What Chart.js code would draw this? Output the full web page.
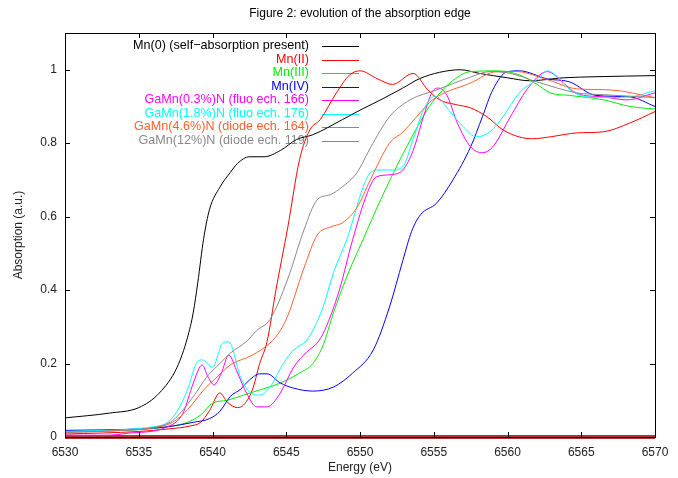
<!DOCTYPE html>
<html>
<head>
<meta charset="utf-8">
<script src="https://cdn.jsdelivr.net/npm/chart.js@4.4.1/dist/chart.umd.min.js"></script>
<style>
  html, body { margin: 0; padding: 0; background: #fff; }
  #wrap { width: 678px; height: 478px; }
</style>
</head>
<body>
<div id="wrap"><canvas id="chartCanvas"></canvas></div>
<script>
// axis ticks
const xTicks = [6530, 6535, 6540, 6545, 6550, 6555, 6560, 6565, 6570];
const yTicks = [0, 0.2, 0.4, 0.6, 0.8, 1];

// Mn(0)
const mn0E = [6530, 6533, 6535, 6536.4, 6537.6, 6538.3, 6538.7, 6539.0, 6539.4, 6539.8, 6540.5, 6541.2, 6541.7, 6542.5, 6543.5, 6544.6, 6545.7, 6546.8, 6548.8, 6550, 6551.5, 6552.9, 6554, 6555.4, 6556.8, 6558.1, 6560, 6561.5, 6563.8, 6566, 6570];
const mn0A = [0.052, 0.065, 0.08, 0.12, 0.19, 0.27, 0.34, 0.42, 0.54, 0.62, 0.68, 0.72, 0.745, 0.763, 0.763, 0.78, 0.81, 0.823, 0.864, 0.89, 0.92, 0.95, 0.975, 0.993, 1.0, 0.99, 0.978, 0.97, 0.978, 0.981, 0.984];

// Mn(II)
const mn2E = [6530, 6535, 6537, 6538.5, 6539.2, 6539.8, 6540.5, 6541, 6541.7, 6542.1, 6542.7, 6543.2, 6543.7, 6544.3, 6545.1, 6545.9, 6546.6, 6547.3, 6548.4, 6549.3, 6550, 6551.2, 6552.2, 6553.6, 6554.6, 6555.4, 6556.5, 6557.5, 6558.6, 6559.7, 6560.8, 6561.7, 6563, 6564.7, 6566.5, 6568.3, 6570];
const mn2A = [0.008, 0.015, 0.022, 0.03, 0.04, 0.072, 0.12, 0.095, 0.08, 0.087, 0.128, 0.2, 0.26, 0.4, 0.57, 0.755, 0.836, 0.864, 0.937, 0.986, 0.997, 0.975, 0.96, 0.99, 0.945, 0.918, 0.905, 0.896, 0.872, 0.836, 0.817, 0.812, 0.818, 0.828, 0.831, 0.855, 0.886];

// Mn(III)
const mn3E = [6530, 6535, 6537, 6538.3, 6539.2, 6540, 6541, 6542.1, 6543.2, 6544.6, 6545.9, 6546.8, 6547.5, 6548.2, 6549.1, 6550.2, 6551.4, 6552.9, 6553.9, 6554.7, 6555.2, 6556.1, 6557.5, 6559.3, 6560.8, 6562, 6562.9, 6564.2, 6566.5, 6568.3, 6570];
const mn3A = [0.015, 0.02, 0.028, 0.04, 0.06, 0.092, 0.1, 0.114, 0.128, 0.147, 0.174, 0.2, 0.25, 0.338, 0.436, 0.537, 0.646, 0.77, 0.845, 0.9, 0.926, 0.964, 0.995, 0.997, 0.986, 0.96, 0.937, 0.93, 0.918, 0.9, 0.893];

// Mn(IV)
const mn4E = [6530, 6535, 6537, 6538.7, 6539.8, 6540.5, 6541.2, 6541.9, 6542.5, 6543.2, 6543.7, 6544.6, 6545.5, 6546.8, 6548.2, 6549.5, 6550.9, 6552, 6552.9, 6553.5, 6554.1, 6555.2, 6556.3, 6557.5, 6558.3, 6559, 6560, 6560.8, 6562.7, 6564.2, 6566, 6568.3, 6570];
const mn4A = [0.018, 0.022, 0.028, 0.04, 0.05, 0.07, 0.11, 0.13, 0.155, 0.172, 0.172, 0.147, 0.133, 0.125, 0.136, 0.174, 0.237, 0.354, 0.48, 0.56, 0.605, 0.637, 0.7, 0.79, 0.872, 0.945, 0.995, 0.997, 0.975, 0.967, 0.93, 0.926, 0.9];

// GaMn(0.3%)N
const ga03E = [6530, 6533, 6534.2, 6536.9, 6538, 6538.7, 6539.3, 6539.7, 6540.1, 6540.6, 6541.1, 6541.7, 6542.3, 6543, 6543.7, 6544.6, 6545.5, 6546.4, 6547.1, 6547.6, 6548.6, 6549.5, 6550.5, 6551.1, 6552, 6552.9, 6553.6, 6554.3, 6554.9, 6555.3, 6555.9, 6556.6, 6557.5, 6558.3, 6559, 6560.2, 6561.3, 6562.7, 6563.8, 6564.7, 6566.5, 6568.1, 6570];
const ga03A = [0.005, 0.005, 0.01, 0.027, 0.065, 0.147, 0.196, 0.163, 0.142, 0.174, 0.223, 0.174, 0.12, 0.082, 0.082, 0.12, 0.19, 0.232, 0.256, 0.29, 0.4, 0.537, 0.665, 0.708, 0.714, 0.727, 0.78, 0.872, 0.94, 0.95, 0.93, 0.855, 0.79, 0.774, 0.79, 0.872, 0.945, 0.995, 0.964, 0.935, 0.926, 0.918, 0.937];

// GaMn(1.8%)N
const ga18E = [6530, 6534, 6536, 6536.9, 6537.6, 6538.3, 6538.9, 6539.3, 6540, 6540.7, 6541.1, 6541.9, 6542.5, 6543.2, 6543.9, 6544.8, 6545.5, 6546.4, 6546.8, 6547.5, 6548.2, 6549.1, 6550.5, 6551.2, 6552.2, 6552.9, 6553.6, 6554.3, 6555.1, 6556.1, 6557, 6557.9, 6558.8, 6559.7, 6560.8, 6562, 6562.7, 6563.6, 6564.4, 6566.5, 6568.3, 6570];
const ga18A = [0.015, 0.02, 0.028, 0.038, 0.07, 0.128, 0.2, 0.21, 0.19, 0.256, 0.259, 0.163, 0.123, 0.114, 0.136, 0.2, 0.237, 0.264, 0.29, 0.354, 0.447, 0.537, 0.708, 0.727, 0.727, 0.736, 0.81, 0.89, 0.928, 0.886, 0.845, 0.817, 0.831, 0.872, 0.937, 0.973, 0.997, 0.973, 0.94, 0.924, 0.926, 0.943];

// GaMn(4.6%)N
const ga46E = [6530, 6534, 6536, 6537.3, 6538.3, 6539.4, 6540.3, 6541.2, 6542.7, 6543.9, 6544.6, 6545.1, 6546.2, 6547.1, 6548, 6548.8, 6549.8, 6550.7, 6552, 6552.9, 6554.7, 6555.2, 6557.5, 6559.3, 6560.6, 6562.7, 6564.7, 6567, 6570];
const ga46A = [0.012, 0.018, 0.025, 0.04, 0.074, 0.128, 0.163, 0.196, 0.223, 0.256, 0.29, 0.33, 0.46, 0.55, 0.572, 0.583, 0.625, 0.7, 0.8, 0.83, 0.91, 0.926, 0.964, 0.995, 0.995, 0.973, 0.948, 0.945, 0.924];

// GaMn(12%)N
const ga12E = [6530, 6534, 6536, 6537.3, 6538.7, 6539.6, 6540.5, 6541.2, 6542.3, 6543, 6543.9, 6545.1, 6546.2, 6547.1, 6548, 6548.8, 6549.8, 6550.7, 6552, 6553.4, 6555.2, 6557.5, 6558.8, 6560.2, 6562, 6564.7, 6566.5, 6570];
const ga12A = [0.013, 0.018, 0.026, 0.045, 0.11, 0.163, 0.2, 0.228, 0.26, 0.29, 0.32, 0.43, 0.564, 0.646, 0.66, 0.681, 0.72, 0.787, 0.872, 0.918, 0.945, 0.98, 0.995, 0.99, 0.967, 0.937, 0.932, 0.924];

// baseline at zero
const zeroE = [6530, 6570];
const zeroA = [0, 0];

const labels = [
  'Mn(0) (self\u2212absorption present)',
  'Mn(II)',
  'Mn(III)',
  'Mn(IV)',
  'GaMn(0.3%)N (fluo ech. 166)',
  'GaMn(1.8%)N (fluo ech. 176)',
  'GaMn(4.6%)N (diode ech. 164)',
  'GaMn(12%)N (diode ech. 119)'
];
const colors = ['#000000', '#ff0000', '#00ee00', '#0000ff', '#ff00ff', '#00ffff', '#ff6030', '#888888'];

const FONT = "'Liberation Sans', Arial, sans-serif";

function toPoints(xs, ys) {
  return xs.map((x, i) => ({ x: x, y: ys[i] }));
}

const seriesE = [mn0E, mn2E, mn3E, mn4E, ga03E, ga18E, ga46E, ga12E];
const seriesA = [mn0A, mn2A, mn3A, mn4A, ga03A, ga18A, ga46A, ga12A];

const datasets = seriesE.map((xs, i) => ({
  label: labels[i],
  data: toPoints(xs, seriesA[i]),
  borderColor: colors[i],
  borderWidth: 1,
  pointRadius: 0,
  cubicInterpolationMode: 'monotone',
  fill: false,
  order: -i
}));

datasets.push({
  label: 'zero',
  data: toPoints(zeroE, zeroA),
  borderColor: '#b23434',
  borderWidth: 4,
  pointRadius: 0,
  fill: false,
  clip: false,
  order: 10
});

// frame, inward ticks, key and title like gnuplot
const framePlugin = {
  id: 'frame',
  beforeDatasetsDraw(chart) {
    const ctx = chart.ctx;
    ctx.save();
    ctx.font = '12.6px ' + FONT;
    ctx.textBaseline = 'middle';
    for (let i = 0; i < labels.length; i++) {
      const y = 46 + i * 13.5;
      ctx.fillStyle = colors[i];
      ctx.textAlign = 'right';
      ctx.fillText(labels[i], 309, y);
      ctx.strokeStyle = colors[i];
      ctx.lineWidth = 1;
      ctx.beginPath();
      ctx.moveTo(322, Math.round(y) + 0.5);
      ctx.lineTo(359, Math.round(y) + 0.5);
      ctx.stroke();
    }
    ctx.restore();
  },
  afterDraw(chart) {
    const ctx = chart.ctx;
    const a = chart.chartArea;
    const xs = chart.scales.x;
    const ys = chart.scales.y;
    const t = 5;
    ctx.save();
    ctx.strokeStyle = '#000';
    ctx.lineWidth = 1;
    ctx.strokeRect(Math.round(a.left) + 0.5, Math.round(a.top) + 0.5, Math.round(a.right - a.left), Math.round(a.bottom - a.top));
    ctx.beginPath();
    xTicks.forEach(v => {
      const px = Math.round(xs.getPixelForValue(v)) + 0.5;
      ctx.moveTo(px, a.bottom); ctx.lineTo(px, a.bottom - t);
      ctx.moveTo(px, a.top); ctx.lineTo(px, a.top + t);
    });
    yTicks.forEach(v => {
      const py = Math.round(ys.getPixelForValue(v)) + 0.5;
      ctx.moveTo(a.left, py); ctx.lineTo(a.left + t, py);
      ctx.moveTo(a.right, py); ctx.lineTo(a.right - t, py);
    });
    ctx.stroke();
    ctx.fillStyle = '#000';
    ctx.font = '12px ' + FONT;
    ctx.textAlign = 'center';
    ctx.textBaseline = 'middle';
    ctx.fillText('Figure 2: evolution of the absorption edge', (a.left + a.right) / 2, 14);
    ctx.restore();
  }
};

const ctx = document.getElementById('chartCanvas').getContext('2d');
new Chart(ctx, {
  type: 'line',
  data: { datasets },
  options: {
    responsive: true,
    maintainAspectRatio: false,
    animation: false,
    layout: { padding: { top: 33, right: 23, left: 0, bottom: 0 } },
    plugins: {
      legend: { display: false },
      tooltip: { enabled: false },
      title: { display: false }
    },
    scales: {
      x: {
        type: 'linear',
        min: 6530,
        max: 6570,
        afterBuildTicks: s => { s.ticks = xTicks.map(v => ({ value: v })); },
        afterFit: s => { s.height = 41; },
        grid: { display: false, drawTicks: false },
        border: { display: false },
        ticks: {
          padding: 8,
          color: '#222',
          font: { family: FONT, size: 12 },
          callback: v => String(v),
          maxRotation: 0
        },
        title: {
          display: true,
          text: 'Energy (eV)',
          color: '#222',
          font: { family: FONT, size: 12 },
          padding: { top: 0, bottom: 3 }
        }
      },
      y: {
        type: 'linear',
        min: 0,
        max: 1.1,
        afterBuildTicks: s => { s.ticks = yTicks.map(v => ({ value: v })); },
        afterFit: s => { s.width = 65; },
        grid: { display: false, drawTicks: false },
        border: { display: false },
        ticks: {
          padding: 8,
          color: '#222',
          font: { family: FONT, size: 12 },
          callback: v => String(Math.round(v * 10) / 10)
        },
        title: {
          display: true,
          text: 'Absorption (a.u.)',
          color: '#222',
          font: { family: FONT, size: 12 },
          padding: { top: 11, bottom: 0 }
        }
      }
    }
  },
  plugins: [framePlugin]
});
</script>
</body>
</html>
